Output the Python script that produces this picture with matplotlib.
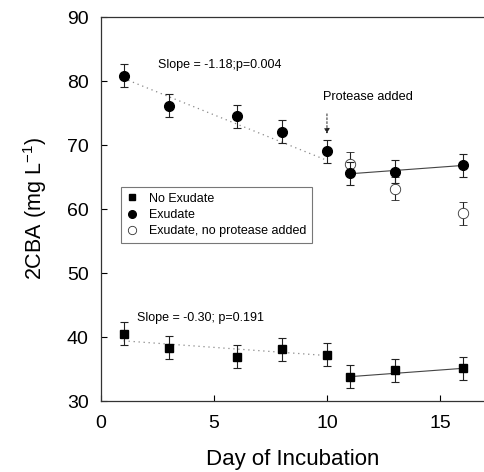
import matplotlib
matplotlib.use("Agg")
import matplotlib.pyplot as plt
from matplotlib.lines import Line2D

plt.rcParams['font.family'] = ['Liberation Sans', 'DejaVu Sans']
plt.rcParams['mathtext.fontset'] = 'custom'
plt.rcParams['mathtext.rm'] = 'Liberation Sans'
plt.rcParams['mathtext.it'] = 'Liberation Sans'
plt.rcParams['mathtext.default'] = 'regular'

# ---- data ----
days = [1, 3, 6, 8, 10, 11, 13, 16]
exudate = [80.8, 76.1, 74.5, 72.1, 69.0, 65.6, 65.8, 66.8]
exudate_err = [1.8, 1.8, 1.8, 1.8, 1.8, 1.8, 1.8, 1.8]
no_exudate = [40.5, 38.3, 36.9, 38.1, 37.2, 33.8, 34.8, 35.1]
no_exudate_err = [1.8, 1.8, 1.8, 1.8, 1.8, 1.8, 1.8, 1.8]
no_protease_days = [11, 13, 16]
no_protease = [67.1, 63.2, 59.3]
no_protease_err = [1.8, 1.8, 1.8]

# regression lines (endpoints)
early_fit_days = [1, 10]
exudate_early_fit = [80.4, 67.6]
no_exudate_early_fit = [39.4, 37.1]
late_fit_days = [11, 16]
exudate_late_fit = [65.5, 66.8]
no_exudate_late_fit = [33.8, 35.1]

legend_labels = ['No Exudate', 'Exudate', 'Exudate, no protease added']

fig = plt.figure(figsize=(4.84, 4.72), dpi=100)
ax = fig.add_axes([101/484, 71/472, 1 - 101/484, (401-17)/472])

ecol = '#222222'
# regression lines
ax.plot(early_fit_days, exudate_early_fit, color='#888888', lw=0.9,
        linestyle=(0, (1, 3)), zorder=1)
ax.plot(early_fit_days, no_exudate_early_fit, color='#888888', lw=0.9,
        linestyle=(0, (1, 3)), zorder=1)
ax.plot(late_fit_days, exudate_late_fit, color='#444444', lw=0.8, zorder=1)
ax.plot(late_fit_days, no_exudate_late_fit, color='#444444', lw=0.8, zorder=1)

# data
ax.errorbar(days, no_exudate, yerr=no_exudate_err, fmt='s', color='black',
            ms=6.2, ecolor=ecol, elinewidth=0.8, capsize=3.2, capthick=0.8,
            zorder=3)
ax.errorbar(days, exudate, yerr=exudate_err, fmt='o', color='black',
            ms=7, ecolor=ecol, elinewidth=0.8, capsize=3.2, capthick=0.8,
            zorder=3)
ax.errorbar(no_protease_days, no_protease, yerr=no_protease_err, fmt='o',
            mfc='white', mec='#333333', mew=0.6, ms=7.5, ecolor=ecol,
            elinewidth=0.8, capsize=3.2, capthick=0.8, zorder=2)

# annotations
ax.text(2.52, 82.5, 'Slope = -1.18;p=0.004', fontsize=9, va='center', ha='left')
ax.text(1.58, 43.0, 'Slope = -0.30; p=0.191', fontsize=9, va='center', ha='left')
ax.text(9.82, 77.5, 'Protease added', fontsize=9.2, va='center', ha='left')
ax.annotate('', xy=(10, 71.3), xytext=(10, 75.3),
            arrowprops=dict(arrowstyle='-|>', color='#222222', lw=0.7,
                            linestyle=(0, (2, 2)), mutation_scale=8))

ax.set_xlim(0, 16.95)
ax.set_ylim(30, 90)
ax.set_xticks([0, 5, 10, 15])
ax.set_yticks([30, 40, 50, 60, 70, 80, 90])
ax.tick_params(axis='both', direction='in', length=4, width=0.8,
               labelsize=14, top=False, right=False)
ax.tick_params(axis='x', pad=10)
ax.tick_params(axis='y', pad=9)
ax.spines['right'].set_visible(False)
for s in ['left', 'top', 'bottom']:
    ax.spines[s].set_linewidth(0.9)
    ax.spines[s].set_color('#333333')

ax.set_xlabel('Day of Incubation', fontsize=16, labelpad=12)
ax.set_ylabel('2CBA (mg L$^{-1}$)', fontsize=15.5, labelpad=13)

handles = [
    Line2D([], [], marker='s', color='black', ls='none', ms=4.5),
    Line2D([], [], marker='o', color='black', ls='none', ms=5.5),
    Line2D([], [], marker='o', mfc='white', mec='#333333', mew=0.6,
           ls='none', ms=6),
]
leg = ax.legend(handles, legend_labels, loc='upper left',
                bbox_to_anchor=(0.052, 0.557),
                borderaxespad=0, fontsize=9, frameon=True, fancybox=False,
                edgecolor='#555555', handlelength=0.9, handletextpad=0.9,
                labelspacing=0.35, borderpad=0.45)
leg.get_frame().set_linewidth(0.8)

fig.savefig('out.png', dpi=100)
